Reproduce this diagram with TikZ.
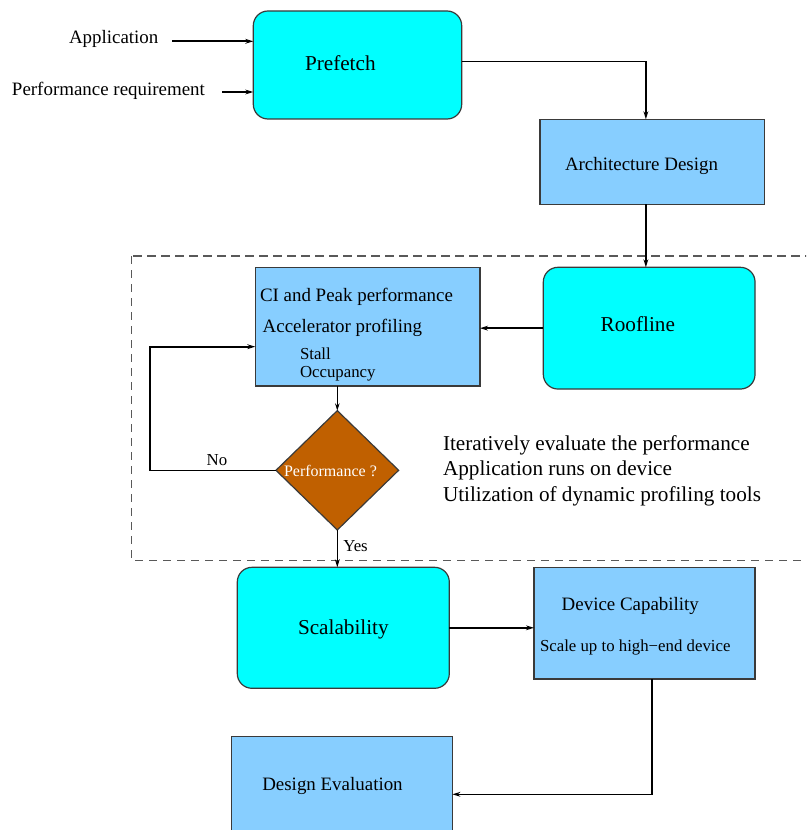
\documentclass[tikz,border=0pt]{standalone}
\usepackage{fontspec}
\setmainfont{Liberation Serif}
\usetikzlibrary{arrows.meta,shapes.geometric}
\definecolor{boxcyan}{HTML}{00FFFF}
\definecolor{boxblue}{HTML}{87CEFF}
\definecolor{decbrown}{HTML}{C06000}
\definecolor{edge}{HTML}{3A3A3A}
\begin{document}
\begin{tikzpicture}[x=0.75pt,y=-0.75pt,
  every node/.style={inner sep=0pt,outer sep=0pt},
  roundbox/.style={draw=edge,line width=0.9pt,fill=boxcyan,rounded corners=11pt,anchor=north west},
  squarebox/.style={draw=edge,line width=0.9pt,fill=boxblue,anchor=north west},
  txt/.style={anchor=base west,font=\fontsize{14.2}{17}\selectfont},
  bigtxt/.style={anchor=base west,font=\fontsize{15.9}{19}\selectfont},
  smalltxt/.style={anchor=base west,font=\fontsize{12.6}{15}\selectfont},
  arr/.style={line width=1.2pt,-{Stealth[length=6pt,width=3.6pt]}},
  thinarr/.style={line width=0.75pt,-{Stealth[length=5.5pt,width=3.4pt]}}]
\useasboundingbox (0,0) rectangle (806,830);
\clip (0,0) rectangle (806,830);

% dashed frame around the profiling loop
\draw[draw=black!65,line width=0.8pt,dash pattern=on 6.2pt off 4.3pt]
  (131.7,256) rectangle (812,560.7);

% boxes
\node[roundbox,minimum width=156.3pt,minimum height=81pt] (pre) at (253.3,11) {};
\node[squarebox,minimum width=168.2pt,minimum height=63.75pt] (arch) at (540,119.3) {};
\node[roundbox,minimum width=158.8pt,minimum height=91.3pt] (roof) at (543.3,267.3) {};
\node[squarebox,minimum width=168.5pt,minimum height=88.7pt] (ci) at (255.3,267.7) {};
\node[diamond,draw=edge,line width=0.9pt,fill=decbrown,minimum width=92pt,minimum height=89.5pt] (dia) at (337.3,470.3) {};
\node[roundbox,minimum width=159pt,minimum height=90.75pt] (sca) at (237.3,567.3) {};
\node[squarebox,minimum width=165.75pt,minimum height=83.8pt] (dev) at (534,567.3) {};
\node[squarebox,minimum width=165.5pt,minimum height=86.4pt] (des) at (231.7,736.7) {};

% texts
\node[txt] (tapp) at (69,44) {Application};
\node[txt] (treq) at (12,95.7) {Performance requirement};
\node[bigtxt] (tpre) at (305,71) {Prefetch};
\node[txt] (tarch) at (565,170.7) {Architecture Design};
\node[bigtxt] (troof) at (600.7,331.7) {Roofline};
\node[txt] (tci) at (260,301) {CI and Peak performance};
\node[txt] (tacc) at (262.7,332.3) {Accelerator profiling};
\node[smalltxt] (tstall) at (300,359) {Stall};
\node[smalltxt] (tocc) at (300,377.3) {Occupancy};
\node[anchor=base west,font=\fontsize{12}{14}\selectfont,text=white] (tdia) at (284,476.7) {Performance ?};
\node[smalltxt] (tno) at (206.7,465) {No};
\node[smalltxt] (tyes) at (343.3,551.7) {Yes};
\node[bigtxt] (tit1) at (443,450.7) {Iteratively evaluate the performance};
\node[bigtxt] (tit2) at (443,475.5) {Application runs on device};
\node[bigtxt] (tit3) at (443,501.2) {Utilization of dynamic profiling tools};
\node[bigtxt] (tsca) at (298,634) {Scalability};
\node[txt] (tdev) at (561.7,610) {Device Capability};
\node[smalltxt] (tscale) at (540,651.7) {Scale up to high−end device};
\node[txt] (tdes) at (262.3,790.7) {Design Evaluation};

% connector start and bend points
\coordinate (appsrc) at (172,41.3);
\coordinate (reqsrc) at (222,92);
\coordinate (loop) at (150,346.7);
\coordinate (drop) at (651.7,794.3);

% connectors
\draw[arr] (appsrc) -- (appsrc -| pre.west);
\draw[arr] (reqsrc) -- (reqsrc -| pre.west);
\draw[arr] ([yshift=2.5pt]pre.east) -| ([xshift=-4.7pt]arch.north);
\draw[arr] ([xshift=-4.7pt]arch.south) -- ([xshift=-4.7pt]arch.south |- roof.north);
\draw[arr] (roof.west) -- (roof.west -| ci.east);
\draw[thinarr] (dia.north |- ci.south) -- (dia.north);
\draw[arr] (dia.west) -| (loop) -- (loop -| ci.west);
\draw[arr] (dia.south) -- (dia.south |- sca.north);
\draw[arr] (sca.east) -- (sca.east -| dev.west);
\draw[arr] (drop |- dev.south) -- (drop) -- (des.east);
\end{tikzpicture}
\end{document}
